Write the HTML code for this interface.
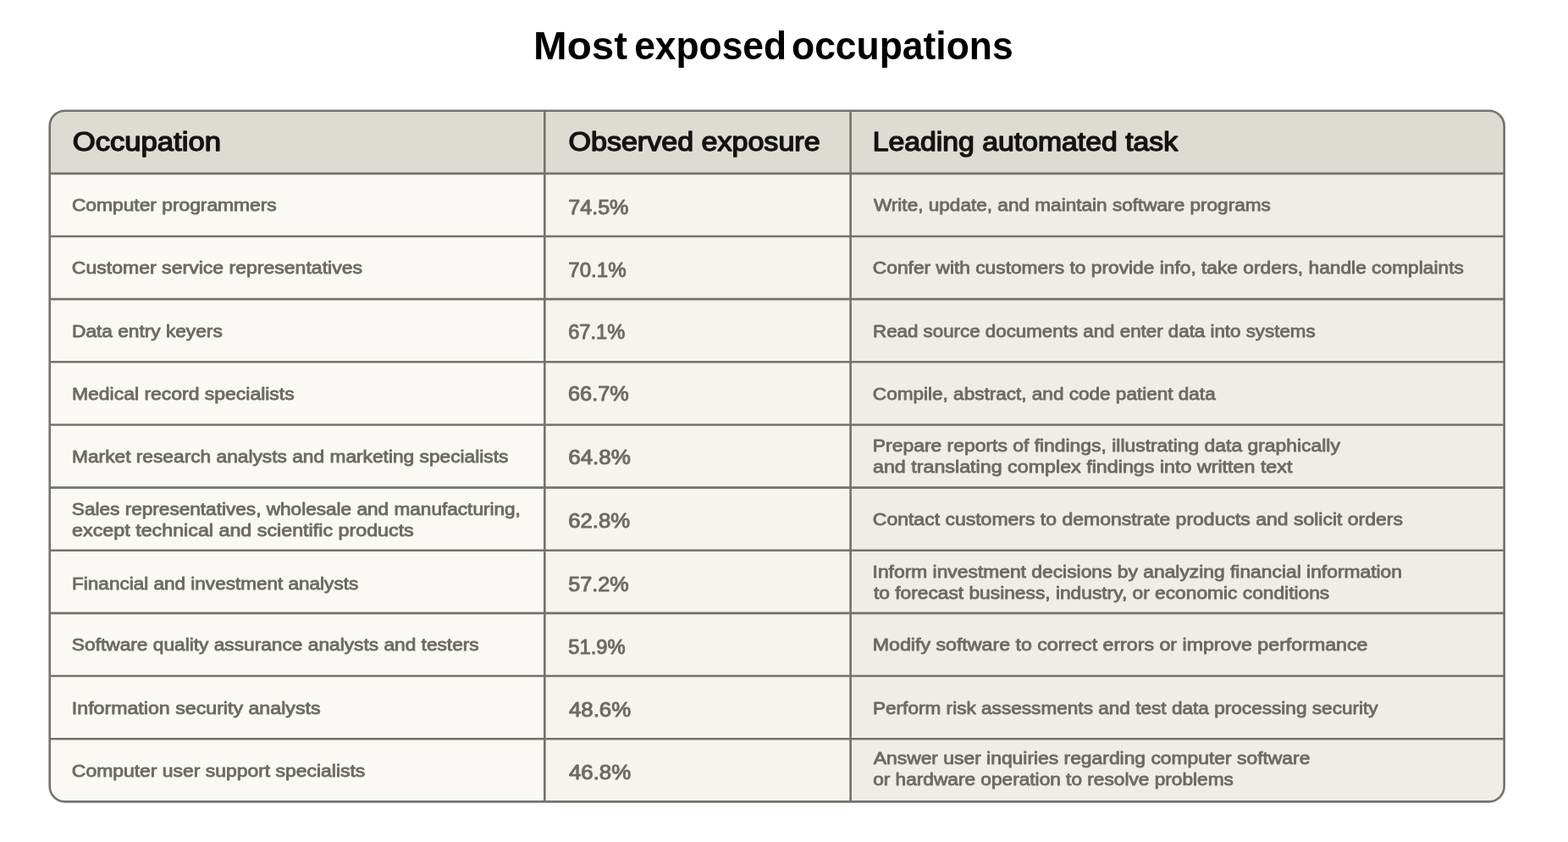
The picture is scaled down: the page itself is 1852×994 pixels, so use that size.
<!DOCTYPE html>
<html lang="en">
<head>
<meta charset="utf-8">
<title>Most exposed occupations</title>
<style>
html,body{margin:0;padding:0;background:#ffffff;}
body{width:1852px;height:994px;overflow:hidden;position:relative;font-family:"Liberation Sans",sans-serif;}
svg{position:absolute;left:0;top:0;display:block;}
text{font-family:"Liberation Sans",sans-serif;white-space:pre;stroke-linejoin:round;}
.title{font-weight:bold;font-size:46px;fill:#000000;}
.head{font-weight:normal;font-size:30.5px;fill:#141413;stroke:#141413;stroke-width:1.4;}
.body{font-size:20.5px;fill:#6c6b65;stroke:#6c6b65;stroke-width:0.85;}
.pct{font-size:23.0px;fill:#6c6b65;stroke:#6c6b65;stroke-width:0.95;}
</style>
</head>
<body>
<svg width="1852" height="994" viewBox="0 0 1852 994" role="img" aria-label="Most exposed occupations table">
<defs><clipPath id="tblclip"><rect x="58.7" y="130.7" width="1717.95" height="815.65" rx="18" ry="18"/></clipPath></defs>
<g clip-path="url(#tblclip)">
<rect x="58.7" y="130.7" width="584.6" height="815.65" fill="#faf9f5"/>
<rect x="643.3" y="130.7" width="361.3" height="815.65" fill="#f5f4ed"/>
<rect x="1004.6" y="130.7" width="772.05" height="815.65" fill="#eeede6"/>
<rect x="58.7" y="130.7" width="1717.95" height="74.15" fill="#dedcd2"/>
</g>
<g stroke="#73726c" stroke-width="2.6" fill="none">
<line x1="58.7" y1="204.85" x2="1776.65" y2="204.85"/>
<line x1="58.7" y1="279.0" x2="1776.65" y2="279.0"/>
<line x1="58.7" y1="353.15" x2="1776.65" y2="353.15"/>
<line x1="58.7" y1="427.3" x2="1776.65" y2="427.3"/>
<line x1="58.7" y1="501.45" x2="1776.65" y2="501.45"/>
<line x1="58.7" y1="575.6" x2="1776.65" y2="575.6"/>
<line x1="58.7" y1="649.75" x2="1776.65" y2="649.75"/>
<line x1="58.7" y1="723.9" x2="1776.65" y2="723.9"/>
<line x1="58.7" y1="798.05" x2="1776.65" y2="798.05"/>
<line x1="58.7" y1="872.2" x2="1776.65" y2="872.2"/>
<line x1="643.3" y1="130.7" x2="643.3" y2="946.35"/>
<line x1="1004.6" y1="130.7" x2="1004.6" y2="946.35"/>
<rect x="58.7" y="130.7" width="1717.95" height="815.65" rx="18" ry="18"/>
</g>
<text class="title" y="70"><tspan x="630.07" textLength="110.95" lengthAdjust="spacingAndGlyphs">Most</tspan> <tspan x="749.15" textLength="179.92" lengthAdjust="spacingAndGlyphs">exposed</tspan> <tspan x="935.03" textLength="261.61" lengthAdjust="spacingAndGlyphs">occupations</tspan></text>
<text class="head" x="85.74" y="178" textLength="175.17" lengthAdjust="spacingAndGlyphs">Occupation</text>
<text class="head" x="671.5" y="178" textLength="297.1" lengthAdjust="spacingAndGlyphs">Observed exposure</text>
<text class="head" x="1030.75" y="178" textLength="360.35" lengthAdjust="spacingAndGlyphs">Leading automated task</text>
<text class="body" x="84.91" y="249" textLength="241.81" lengthAdjust="spacingAndGlyphs">Computer programmers</text>
<text class="body" x="84.86" y="323" textLength="343.17" lengthAdjust="spacingAndGlyphs">Customer service representatives</text>
<text class="body" x="85.03" y="398" textLength="177.71" lengthAdjust="spacingAndGlyphs">Data entry keyers</text>
<text class="body" x="84.92" y="472" textLength="262.8" lengthAdjust="spacingAndGlyphs">Medical record specialists</text>
<text class="body" x="85.02" y="546" textLength="515.39" lengthAdjust="spacingAndGlyphs">Market research analysts and marketing specialists</text>
<text class="body" x="84.87" y="608" textLength="530.04" lengthAdjust="spacingAndGlyphs">Sales representatives, wholesale and manufacturing,</text>
<text class="body" x="85.14" y="633" textLength="403.64" lengthAdjust="spacingAndGlyphs">except technical and scientific products</text>
<text class="body" x="85.08" y="696" textLength="338.11" lengthAdjust="spacingAndGlyphs">Financial and investment analysts</text>
<text class="body" x="84.86" y="768" textLength="480.87" lengthAdjust="spacingAndGlyphs">Software quality assurance analysts and testers</text>
<text class="body" x="84.81" y="843" textLength="293.72" lengthAdjust="spacingAndGlyphs">Information security analysts</text>
<text class="body" x="84.89" y="917" textLength="346.39" lengthAdjust="spacingAndGlyphs">Computer user support specialists</text>
<text class="pct" x="671.21" y="253" textLength="71.25" lengthAdjust="spacingAndGlyphs">74.5%</text>
<text class="pct" x="671.3" y="327" textLength="68.34" lengthAdjust="spacingAndGlyphs">70.1%</text>
<text class="pct" x="671.24" y="400" textLength="66.95" lengthAdjust="spacingAndGlyphs">67.1%</text>
<text class="pct" x="671.04" y="473" textLength="71.66" lengthAdjust="spacingAndGlyphs">66.7%</text>
<text class="pct" x="671.19" y="548" textLength="73.67" lengthAdjust="spacingAndGlyphs">64.8%</text>
<text class="pct" x="671.2" y="623" textLength="72.96" lengthAdjust="spacingAndGlyphs">62.8%</text>
<text class="pct" x="671.25" y="698" textLength="71.51" lengthAdjust="spacingAndGlyphs">57.2%</text>
<text class="pct" x="671.33" y="772" textLength="67.36" lengthAdjust="spacingAndGlyphs">51.9%</text>
<text class="pct" x="671.93" y="846" textLength="73.27" lengthAdjust="spacingAndGlyphs">48.6%</text>
<text class="pct" x="671.93" y="920" textLength="73.27" lengthAdjust="spacingAndGlyphs">46.8%</text>
<text class="body" x="1031.94" y="249" textLength="468.89" lengthAdjust="spacingAndGlyphs">Write, update, and maintain software programs</text>
<text class="body" x="1030.85" y="323" textLength="698.02" lengthAdjust="spacingAndGlyphs">Confer with customers to provide info, take orders, handle complaints</text>
<text class="body" x="1031.01" y="398" textLength="522.58" lengthAdjust="spacingAndGlyphs">Read source documents and enter data into systems</text>
<text class="body" x="1030.88" y="472" textLength="404.8" lengthAdjust="spacingAndGlyphs">Compile, abstract, and code patient data</text>
<text class="body" x="1030.85" y="533" textLength="552.04" lengthAdjust="spacingAndGlyphs">Prepare reports of findings, illustrating data graphically</text>
<text class="body" x="1030.99" y="558" textLength="495.43" lengthAdjust="spacingAndGlyphs">and translating complex findings into written text</text>
<text class="body" x="1030.81" y="620" textLength="626.21" lengthAdjust="spacingAndGlyphs">Contact customers to demonstrate products and solicit orders</text>
<text class="body" x="1030.59" y="682" textLength="625.42" lengthAdjust="spacingAndGlyphs">Inform investment decisions by analyzing financial information</text>
<text class="body" x="1031.91" y="707" textLength="538.34" lengthAdjust="spacingAndGlyphs">to forecast business, industry, or economic conditions</text>
<text class="body" x="1030.75" y="768" textLength="584.73" lengthAdjust="spacingAndGlyphs">Modify software to correct errors or improve performance</text>
<text class="body" x="1030.94" y="843" textLength="596.75" lengthAdjust="spacingAndGlyphs">Perform risk assessments and test data processing security</text>
<text class="body" x="1031.79" y="902" textLength="515.58" lengthAdjust="spacingAndGlyphs">Answer user inquiries regarding computer software</text>
<text class="body" x="1031.16" y="927" textLength="425.69" lengthAdjust="spacingAndGlyphs">or hardware operation to resolve problems</text>
</svg>
</body>
</html>
